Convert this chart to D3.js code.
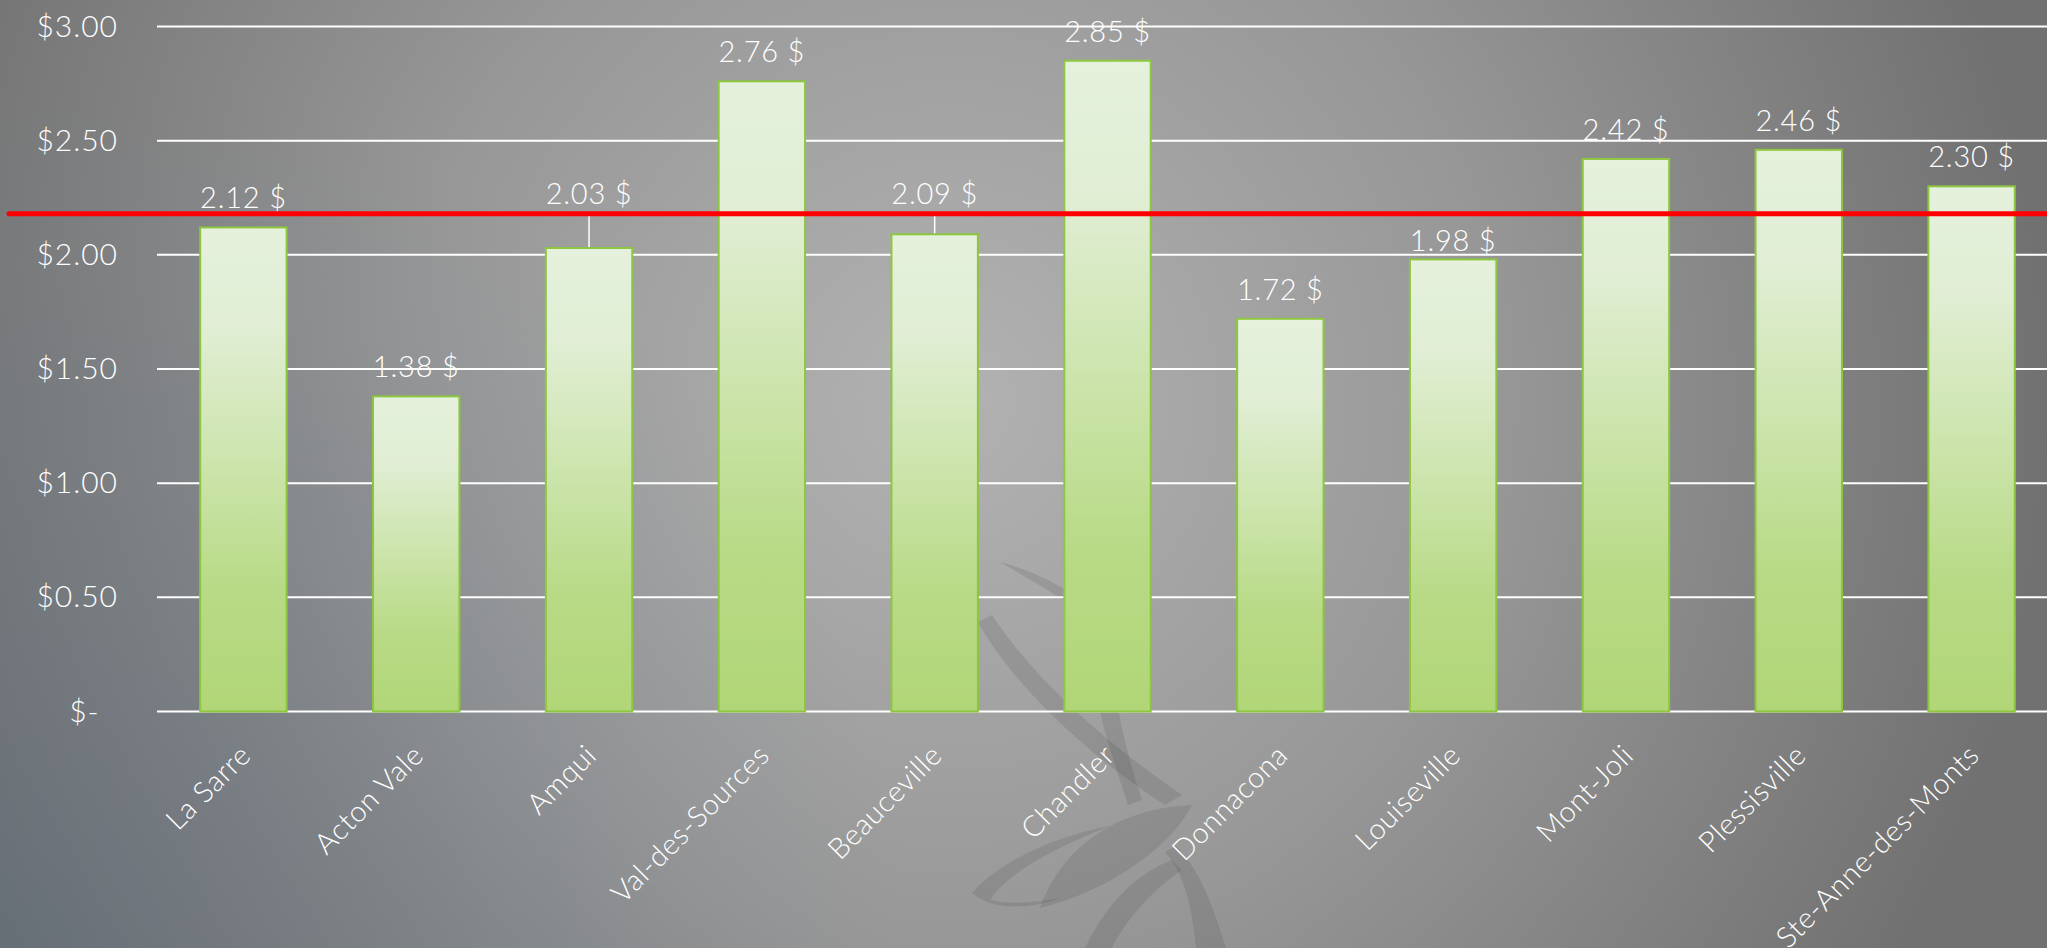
<!DOCTYPE html>
<html>
<head>
<meta charset="utf-8">
<script src="https://cdn.jsdelivr.net/npm/d3@7"></script>
<style>
  html, body { margin: 0; padding: 0; overflow: hidden; background: #8a8a8a; }
  svg { display: block; }
  text { font-family: "Century Gothic", Lato, "Open Sans", sans-serif; font-weight: 300; fill: #fff; }
</style>
</head>
<body>
<svg id="chart"></svg>
<script>
// data
var cities = ["La Sarre", "Acton Vale", "Amqui", "Val-des-Sources", "Beauceville", "Chandler",
              "Donnacona", "Louiseville", "Mont-Joli", "Plessisville", "Ste-Anne-des-Monts"];
var prices = [2.12, 1.38, 2.03, 2.76, 2.09, 2.85, 1.72, 1.98, 2.42, 2.46, 2.30];
var yTicks = [0, 0.5, 1, 1.5, 2, 2.5, 3];
var average = 2.18;

var W = 2047, H = 948;
var svg = d3.select('#chart').attr('width', W).attr('height', H);
var defs = svg.append('defs');

// background
var bg = defs.append('radialGradient').attr('id', 'bgGrad')
  .attr('gradientUnits', 'userSpaceOnUse').attr('cx', 950).attr('cy', 400).attr('r', 1100);
bg.append('stop').attr('offset', 0).attr('stop-color', '#b2b2b2');
bg.append('stop').attr('offset', 0.5).attr('stop-color', '#979797');
bg.append('stop').attr('offset', 1).attr('stop-color', '#717171');

var blue = defs.append('radialGradient').attr('id', 'blueGrad')
  .attr('gradientUnits', 'userSpaceOnUse').attr('cx', 0).attr('cy', 948).attr('r', 900);
blue.append('stop').attr('offset', 0).attr('stop-color', '#556a7e').attr('stop-opacity', 0.38);
blue.append('stop').attr('offset', 1).attr('stop-color', '#556a7e').attr('stop-opacity', 0);

svg.append('rect').attr('width', W).attr('height', H).attr('fill', 'url(#bgGrad)');
svg.append('rect').attr('width', W).attr('height', H).attr('fill', 'url(#blueGrad)');

// faint watermark (rough)
var wm = svg.append('g').attr('fill', 'rgba(60,60,60,0.14)');
wm.append('path').attr('d', 'M1000,562 C1050,575 1092,602 1122,642 C1085,612 1045,588 1000,562 Z');
wm.append('path').attr('d', 'M978,622 C1010,680 1080,750 1165,805 L1182,795 C1105,742 1035,680 992,615 Z');
wm.append('path').attr('d', 'M1100,712 C1108,745 1118,775 1128,805 L1142,800 C1132,770 1124,740 1118,708 Z');
wm.append('path').attr('d', 'M1040,908 C1062,845 1120,808 1192,805 C1172,845 1112,890 1040,908 Z');
wm.append('path').attr('d', 'M972,893 C1000,860 1060,835 1110,826 C1060,846 1010,870 990,900 C1010,905 1040,902 1060,898 C1030,910 990,910 972,893 Z');
wm.append('path').attr('d', 'M1085,948 C1108,900 1140,872 1172,860 L1182,870 C1152,890 1126,920 1112,948 Z');
wm.append('path').attr('d', 'M1196,948 C1192,905 1184,874 1165,852 L1176,846 C1202,872 1214,910 1226,948 Z');

// bar gradient
var bgr = defs.append('linearGradient').attr('id', 'barGrad')
  .attr('x1', 0).attr('y1', 0).attr('x2', 0).attr('y2', 1);
[[0, '#e5f1dc'], [0.2, '#e1eed5'], [0.5, '#cbe4aa'], [0.75, '#b8da86'], [1, '#b1d677']].forEach(function(s) {
  bgr.append('stop').attr('offset', s[0]).attr('stop-color', s[1]);
});

var x = d3.scaleBand().domain(cities).range([157, 2058]).paddingInner(0.5).paddingOuter(0.25);
var y = d3.scaleLinear().domain([0, 3]).range([711.5, 26.5]);

// gridlines
svg.append('g').selectAll('line').data(yTicks).enter().append('line')
  .attr('x1', 157).attr('x2', W)
  .attr('y1', function(d) { return y(d); }).attr('y2', function(d) { return y(d); })
  .attr('stroke', '#fff').attr('stroke-width', 2);

// y axis labels
var yAxis = d3.axisLeft(y).tickValues(yTicks).tickSize(0).tickPadding(39)
  .tickFormat(function(d) { return d === 0 ? '$-\u00a0\u00a0' : '$' + d.toFixed(2); });
var ya = svg.append('g').attr('transform', 'translate(157,0)').call(yAxis);
ya.select('.domain').remove();
ya.attr('font-family', null).attr('font-size', null);
ya.selectAll('text').attr('font-size', 30).attr('letter-spacing', 1).attr('fill', '#fff');

// bars
svg.append('g').selectAll('rect').data(prices).enter().append('rect')
  .attr('x', function(d, i) { return x(cities[i]); })
  .attr('y', function(d) { return y(d); })
  .attr('width', x.bandwidth())
  .attr('height', function(d) { return y(0) - y(d); })
  .attr('fill', 'url(#barGrad)')
  .attr('stroke', '#8dc63f').attr('stroke-width', 2);

// value labels: keep clear of the average line, either just above the bar
// or lifted over the line with a leader
var redY = y(average);
var labels = svg.append('g');
prices.forEach(function(d, i) {
  var cx = x(cities[i]) + x.bandwidth() / 2;
  var top = y(d);
  var base = top - 19;
  if (base > redY - 2 && base - 22 < redY + 12) {
    if (top - 8 - 22 >= redY + 12) {
      base = top - 8;
    } else {
      base = redY - 10;
      labels.append('line').attr('x1', cx).attr('x2', cx)
        .attr('y1', redY + 2).attr('y2', top - 1)
        .attr('stroke', '#fff').attr('stroke-width', 1.5);
    }
  }
  labels.append('text').attr('x', cx).attr('y', base)
    .attr('text-anchor', 'middle').attr('font-size', 29).attr('letter-spacing', 0.8)
    .text(d.toFixed(2) + ' $');
});

// average line
svg.append('line').attr('x1', 9).attr('x2', W + 5).attr('y1', redY).attr('y2', redY)
  .attr('stroke', '#ff0000').attr('stroke-width', 5).attr('stroke-linecap', 'round');

// category labels
svg.append('g').selectAll('text').data(cities).enter().append('text')
  .attr('transform', function(d) { return 'translate(' + (x(d) + x.bandwidth() / 2 + 2) + ',750) rotate(-45)'; })
  .attr('text-anchor', 'end').attr('dy', '0.35em').attr('font-size', 29).attr('letter-spacing', 0.6)
  .text(function(d) { return d; });
</script>
</body>
</html>
